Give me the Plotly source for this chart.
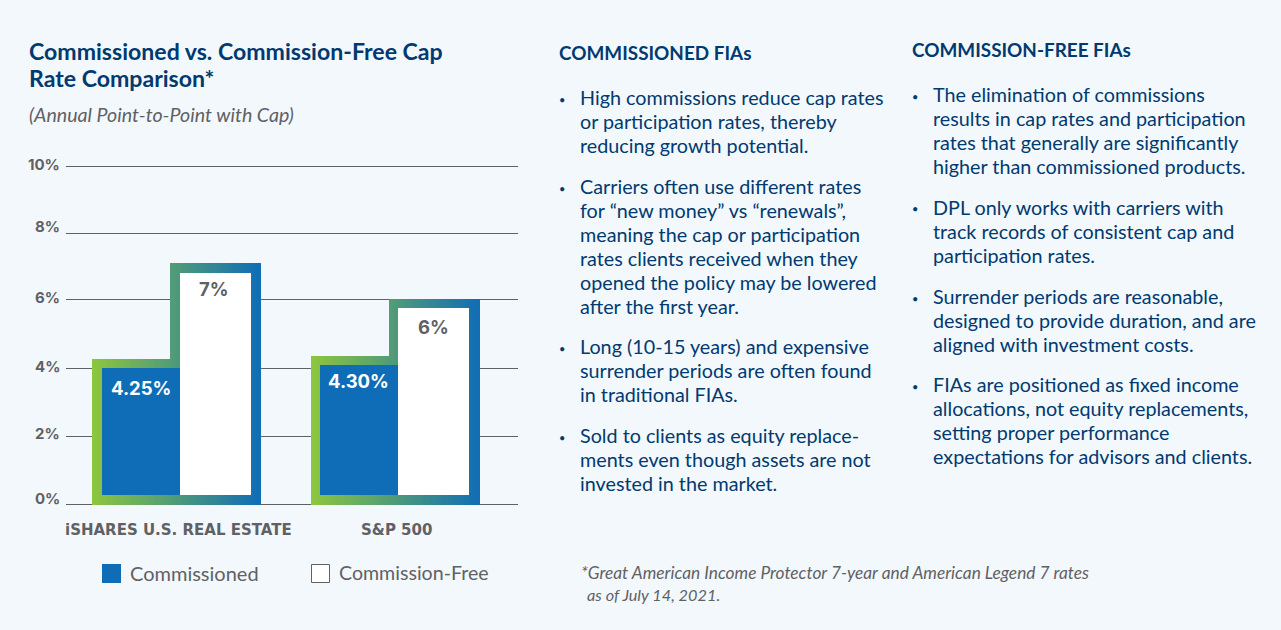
import numpy as np
import plotly.graph_objects as go

W, H = 1281, 630

# ---- data ----
categories = ["iSHARES U.S. REAL ESTATE", "S&P 500"]
series_names = ["Commissioned", "Commission-Free"]
commissioned_labels = ["4.25%", "4.30%"]
commission_free_labels = ["7%", "6%"]
commissioned_values = [4.04, 4.13]
commission_free_values = [6.85, 5.82]
commissioned_outline = [4.31, 4.40]
commission_free_outline = [7.15, 6.08]
y_ticks = [0, 2.01, 4.03, 6.07, 8.02, 10]
y_tick_labels = ["0%", "2%", "4%", "6%", "8%", "10%"]

title_lines = ["Commissioned vs. Commission-Free Cap", "Rate Comparison*"]
subtitle = "(Annual Point-to-Point with Cap)"
left_heading = "COMMISSIONED FIAs"
right_heading = "COMMISSION-FREE FIAs"
left_lines = [
    "High commissions reduce cap rates", "or participation rates, thereby", "reducing growth potential.",
    "Carriers often use different rates", "for “new money” vs “renewals”,", "meaning the cap or participation",
    "rates clients received when they", "opened the policy may be lowered", "after the first year.",
    "Long (10-15 years) and expensive", "surrender periods are often found", "in traditional FIAs.",
    "Sold to clients as equity replace-", "ments even though assets are not", "invested in the market.",
]
right_lines = [
    "The elimination of commissions", "results in cap rates and participation",
    "rates that generally are significantly", "higher than commissioned products.",
    "DPL only works with carriers with", "track records of consistent cap and", "participation rates.",
    "Surrender periods are reasonable,", "designed to provide duration, and are", "aligned with investment costs.",
    "FIAs are positioned as fixed income", "allocations, not equity replacements,",
    "setting proper performance", "expectations for advisors and clients.",
]
footnote_lines = ["*Great American Income Protector 7-year and American Legend 7 rates", "as of July 14, 2021."]

# ---- layout constants ----
BG = "#f3f8fc"
NAVY = "#003a70"
GREY = "#5f6165"
BLUE = "#0f6db7"
BODY = "Lato"
BOLD = "Inter"
PX_X0, PX_X1, PX_Y0, PX_Y1 = 66, 518, 504.3, 166.3
PAD = 0.2
PX_PER = (PX_Y0 - PX_Y1) / 10
STEP = 219.0
X_RANGE = [(PX_X0 - 176) / STEP, (PX_X1 - 176) / STEP]


def dx(px):
    return px / STEP


def xp(px):
    return px / W


def yp(px):
    return 1 - px / H


# gradient frame: thin slices whose heights come from the outline values
slice_x, slice_y, slice_c = [], [], []
frame_left, frame_right, frame_step = [-84, -84], [84.5, 85.5], [-6, -6]
c0, c1 = np.array([141, 198, 63]), np.array([15, 109, 183])
for g in range(len(categories)):
    edges = np.arange(frame_left[g], frame_right[g] - 1.9, 1.5)
    for e in edges:
        t = (e - frame_left[g]) / (frame_right[g] - frame_left[g])
        r, gg, b = (c0 + (c1 - c0) * t).astype(int)
        slice_x.append(g + dx(e + 1))
        slice_y.append(commissioned_outline[g] if e < frame_step[g] - 1 else commission_free_outline[g])
        slice_c.append(f"rgb({r},{gg},{b})")

fig = go.Figure()
fig.add_trace(go.Bar(x=slice_x, y=slice_y, width=dx(2.0), marker=dict(color=slice_c, line=dict(width=0)),
                     showlegend=False, hoverinfo="skip"))
BASE = 0.29
group_x = np.arange(len(categories))
fig.add_trace(go.Bar(x=group_x + dx(1) * np.array([-35, -36]), y=np.array(commissioned_values) - BASE, base=BASE,
                     width=dx(78), name=series_names[0], marker=dict(color=BLUE, line=dict(width=0)),
                     showlegend=False))
fig.add_trace(go.Bar(x=group_x + dx(1) * np.array([39.5, 38.7]), y=np.array(commission_free_values) - BASE, base=BASE,
                     width=dx(71.5), name=series_names[1], marker=dict(color="#ffffff", line=dict(width=0)),
                     showlegend=False))

ann = []


def text(s, x, y, size, color, family=BODY, bold=False, italic=False, anchor="left"):
    if bold:
        s = f"<b>{s}</b>"
    if italic:
        s = f"<i>{s}</i>"
    ann.append(dict(text=s, x=xp(x), y=yp(y), xref="paper", yref="paper", xanchor=anchor, yanchor="middle",
                    showarrow=False, font=dict(size=size, color=color, family=family), borderpad=0, borderwidth=0))


for s, y in zip(title_lines, [51, 78]):
    text(s, 28.5, y, 23.1, NAVY, "Lato", bold=True)
text(subtitle, 29, 114.5, 19.6, GREY, "Lato", italic=True)
text(left_heading, 558.5, 52.5, 18.9, NAVY, "Lato", bold=True)
text(right_heading, 911.5, 49.5, 18.9, NAVY, "Lato", bold=True)

left_y = [97.5, 121.5, 145.5, 186.5, 210.5, 234.5, 258.5, 282.5, 306.5, 346.5, 370.5, 394.5, 435.5, 459.5, 483.5]
right_y = [94.5, 118.5, 142.5, 166.5, 207.5, 231.5, 255.5, 296.5, 320.5, 344.5, 384.5, 408.5, 432.5, 456.5]
for s, y in zip(left_lines, left_y):
    text(s, 580, y, 19.75, NAVY)
for s, y in zip(right_lines, right_y):
    text(s, 932.5, y, 19.75, NAVY)
for y in (99, 188, 348, 437):
    text("•", 558.5, y, 11, NAVY)
for y in (96, 209, 298, 386):
    text("•", 911.5, y, 11, NAVY)

for s, y in zip(y_tick_labels, [498.5, 433.5, 366.5, 297.5, 226.5, 164.5]):
    text(s, 60, y, 15, GREY, BOLD, bold=True, anchor="right")
for s, x in zip(categories, [179, 396]):
    text(s, x, 529.5, 15, GREY, "DejaVu Sans", bold=True, anchor="center")
for s, x, y in zip(commissioned_labels, [140.5, 358.5], [387.5, 380.5]):
    text(s, x, y, 18.5, "#ffffff", BOLD, bold=True, anchor="center")
for s, x, y in zip(commission_free_labels, [214, 433], [289.5, 326.5]):
    text(s, x, y, 18.5, GREY, BOLD, bold=True, anchor="center")

text(series_names[0], 130, 572.5, 20, GREY)
text(series_names[1], 339, 572.5, 19.6, GREY)
text(footnote_lines[0], 581, 572.5, 17.3, GREY, italic=True)
text(footnote_lines[1], 587, 594.5, 16.3, GREY, italic=True)

shapes = [
    dict(type="rect", xref="paper", yref="paper", x0=xp(102), x1=xp(121), y0=yp(583), y1=yp(564),
         fillcolor=BLUE, line=dict(width=0)),
    dict(type="rect", xref="paper", yref="paper", x0=xp(311.5), x1=xp(329.5), y0=yp(582.5), y1=yp(564.5),
         fillcolor="#ffffff", line=dict(width=1, color=GREY)),
]

fig.update_layout(
    width=W, height=H, autosize=False, margin=dict(l=0, r=0, t=0, b=0),
    paper_bgcolor=BG, plot_bgcolor=BG, barmode="overlay", bargap=0, showlegend=False,
    xaxis=dict(domain=[xp(PX_X0), xp(PX_X1)], range=X_RANGE, showgrid=False, zeroline=False,
               showticklabels=False, ticks="", fixedrange=True),
    yaxis=dict(domain=[yp(PX_Y0 + PAD * PX_PER), yp(PX_Y1 - PAD * PX_PER)], range=[-PAD, 10 + PAD],
               tickmode="array", tickvals=y_ticks, showticklabels=False, ticks="", showgrid=True,
               gridcolor=GREY, gridwidth=1, zeroline=False, fixedrange=True),
    annotations=ann, shapes=shapes,
)
fig.write_html("out.html", config=dict(displayModeBar=False),
               post_script="document.body.style.margin='0';document.body.style.background='%s';" % BG)
